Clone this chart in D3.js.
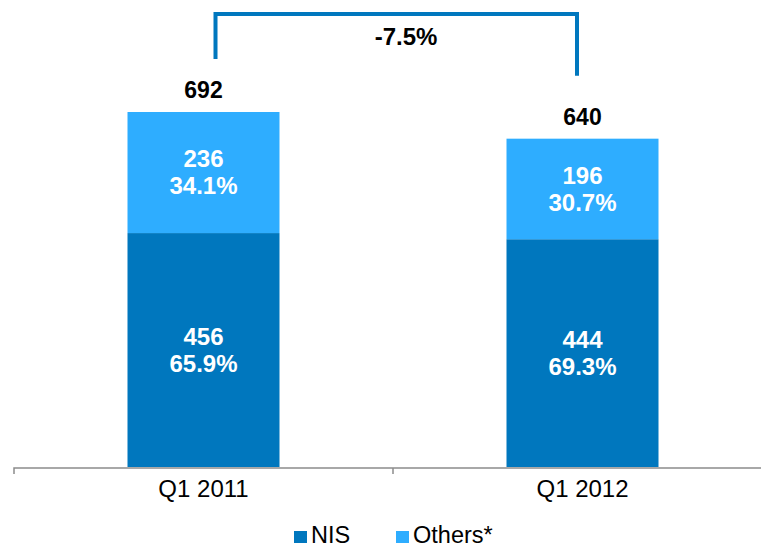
<!DOCTYPE html>
<html><head><meta charset="utf-8">
<script src="https://cdn.jsdelivr.net/npm/d3@7"></script>
<style>body{margin:0;background:#fff}svg{display:block;font-family:"Liberation Sans",Arial,sans-serif}</style>
</head><body><svg id="c" width="761" height="548"></svg>
<script>
const categories = ["Q1 2011", "Q1 2012"];
const nis = [456, 444];
const others = [236, 196];
const nisPct = ["65.9%", "69.3%"];
const othersPct = ["34.1%", "30.7%"];
const totals = [692, 640];
const changeLabel = "-7.5%";
const seriesNames = ["NIS", "Others*"];
const colors = {NIS: "#0077BE", "Others*": "#2EADFF"};

const svg = d3.select("#c");
const x = d3.scaleBand().domain(categories).range([14, 772]).paddingInner(0).paddingOuter(0);
const y = d3.scaleLinear().domain([0, 800]).range([467, 56.6]);
const bw = 152;
const cx = d => x(d) + x.bandwidth() / 2;

const stackData = categories.map((c, i) => ({cat: c, NIS: nis[i], "Others*": others[i]}));
const stack = d3.stack().keys(seriesNames)(stackData);

stack.forEach(layer => {
  svg.append("g").selectAll("rect").data(layer).join("rect")
    .attr("x", d => cx(d.data.cat) - bw / 2)
    .attr("width", bw)
    .attr("y", d => y(d[1]))
    .attr("height", d => y(d[0]) - y(d[1]))
    .attr("fill", colors[layer.key]);
});

// inner labels
const lab = svg.append("g").attr("fill", "#fff").attr("font-weight", "bold").attr("font-size", 24).attr("text-anchor", "middle");
categories.forEach((c, i) => {
  const segs = [[0, nis[i], nis[i], nisPct[i]], [nis[i], nis[i] + others[i], others[i], othersPct[i]]];
  segs.forEach(s => {
    const mid = (y(s[0]) + y(s[1])) / 2;
    lab.append("text").attr("x", cx(c)).attr("y", mid - 13.5).attr("dy", "0.35em").text(s[2]);
    lab.append("text").attr("x", cx(c)).attr("y", mid + 13.5).attr("dy", "0.35em").text(s[3]);
  });
  svg.append("text").attr("x", cx(c)).attr("y", y(totals[i]) - 22).attr("dy", "0.35em")
    .attr("text-anchor", "middle").attr("font-weight", "bold").attr("font-size", 23).attr("fill", "#000")
    .text(totals[i]);
});

// axis
const ax = svg.append("g").attr("transform", "translate(0,468)")
  .call(d3.axisBottom(x).tickSize(0).tickPadding(12));
ax.select(".domain").attr("stroke", "#8c8c8c").attr("stroke-width", 1.5).attr("d", "M14,6V0H772V6");
ax.selectAll("text").attr("font-size", 24).attr("fill", "#000").attr("font-family", "Liberation Sans, Arial, sans-serif");
ax.append("line").attr("x1", 393).attr("x2", 393).attr("y1", 0).attr("y2", 6).attr("stroke", "#8c8c8c").attr("stroke-width", 1.5);

// bracket
const lx = 215.5, rx = 577, topY = 14;
svg.append("path")
  .attr("d", `M${lx},${y(totals[0]) - 53}V${topY}H${rx}V${y(totals[1]) - 63}`)
  .attr("fill", "none").attr("stroke", "#0077BE").attr("stroke-width", 4);
svg.append("text").attr("x", 406).attr("y", 37).attr("dy", "0.35em")
  .attr("text-anchor", "middle").attr("font-weight", "bold").attr("font-size", 24).text(changeLabel);

// legend
const legX = [294, 396];
const lg = svg.append("g");
seriesNames.forEach((s, i) => {
  lg.append("rect").attr("x", legX[i]).attr("y", 531).attr("width", 13).attr("height", 12).attr("fill", colors[s]);
  lg.append("text").attr("x", legX[i] + 17).attr("y", 542.5).attr("font-size", 23.5).text(s);
});
</script></body></html>
